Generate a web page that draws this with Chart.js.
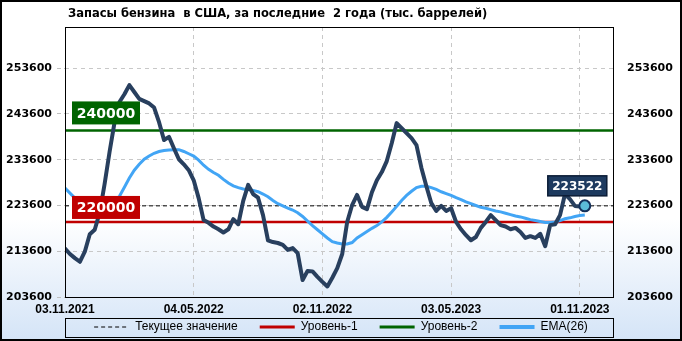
<!DOCTYPE html>
<html>
<head>
<meta charset="utf-8">
<script src="https://cdn.jsdelivr.net/npm/chart.js@4.4.0/dist/chart.umd.min.js"></script>
<style>
  html, body { margin: 0; padding: 0; background: #fff; }
  #wrap { width: 682px; height: 341px; }
</style>
</head>
<body>
<div id="wrap"><canvas id="chart" width="682" height="341"></canvas></div>
<script>
// Запасы бензина в США, недельные значения (тыс. баррелей)
const stocks = [
  214200, 213000, 212100, 211300, 213500, 217300, 218300, 222000, 228300, 235300,
  241700, 246200, 247900, 249900, 248400, 246900, 246400, 245900, 245000, 241800,
  237900, 238600, 236100, 233700, 232600, 231300, 229100, 225200, 220400, 219800,
  219000, 218400, 217700, 218400, 220600, 219500, 224600, 228100, 226100, 225300,
  221500, 216000, 215600, 215400, 215000, 213900, 214300, 213200, 207300, 209300,
  209200, 208000, 206900, 205900, 207800, 209900, 213000, 220000, 223700, 225900,
  223300, 222800, 226500, 229100, 230900, 233300, 237200, 241600, 240500, 239400,
  238300, 236800, 231800, 227800, 224100, 222400, 223500, 222400, 223000, 220000,
  218400, 217100, 216000, 216700, 218700, 220000, 221500, 220400, 219300, 219000,
  218400, 218700, 217800, 216500, 216900, 216500, 217400, 214700, 219300, 219500,
  221500, 226100, 225000, 223500, 223400, 223522
];

// EMA(26)
const ema26 = [
  227400, 226300, 225200, 224300, 223700, 223200, 223000, 223200, 223600, 224000,
  224700, 225600, 227600, 229600, 231300, 232600, 233700, 234400, 235000, 235400,
  235600, 235700, 235800, 235800, 235400, 234900, 234400, 233500, 232400, 231500,
  230800, 230200, 229300, 228500, 227900, 227500, 227200, 227100, 226900, 226600,
  226100, 225500, 224700, 224000, 223500, 223000, 222600, 222000, 221200, 220200,
  219200, 218300, 217400, 216500, 215700, 215400, 215200, 215200, 215500, 216500,
  217200, 217900, 218600, 219200, 220000, 221000, 222200, 223400, 224700, 225800,
  226700, 227500, 227800, 227800, 227500, 227100, 226600, 226200, 225800, 225300,
  224900, 224400, 224000, 223600, 223200, 223000, 222700, 222400, 222200, 221900,
  221600, 221300, 221100, 220800, 220500, 220300, 220100, 219900, 219900, 220000,
  220300, 220700, 220900, 221200, 221400, 221500
];

const xTickPos = [0, 26, 52, 78, 104];
const xTickLabels = ['03.11.2021', '04.05.2022', '02.11.2022', '03.05.2023', '01.11.2023'];
const yTicks = [203600, 213600, 223600, 233600, 243600, 253600];

const level1 = 220000;
const level2 = 240000;
const currentValue = 223522;

const legendNames = ['Текущее значение', 'Уровень-1', 'Уровень-2', 'EMA(26)'];
const chartTitle = 'Запасы бензина  в США, за последние  2 года (тыс. баррелей)';

const xMax = 110.9;
const yMin = 203600;
const yMax = 262600;

const flat = v => [{ x: 0, y: v }, { x: xMax, y: v }];
const points = arr => arr.map((v, i) => ({ x: i, y: v }));
const lastIdx = stocks.length - 1;

function drawTag(ctx, text, x, y, w, h, fill, edge, font) {
  ctx.save();
  ctx.fillStyle = fill;
  ctx.fillRect(x, y, w, h);
  if (edge) {
    ctx.strokeStyle = edge;
    ctx.lineWidth = 1.5;
    ctx.strokeRect(x, y, w, h);
  }
  ctx.fillStyle = '#fff';
  ctx.font = font;
  ctx.textAlign = 'center';
  ctx.textBaseline = 'middle';
  ctx.fillText(text, x + w / 2, y + h / 2 + 1);
  ctx.restore();
}

const decor = {
  id: 'decor',
  afterLayout(chart) {
    // легенду чуть ниже
    chart.legend.top += 2;
    chart.legend.bottom += 2;
  },
  beforeDraw(chart) {
    const { ctx, width, height } = chart;
    const bg = ctx.createLinearGradient(0, 0, 0, height);
    bg.addColorStop(0, '#ffffff');
    bg.addColorStop(0.64, '#ffffff');
    bg.addColorStop(1, '#d4e4f7');
    ctx.save();
    ctx.fillStyle = bg;
    ctx.fillRect(0, 0, width, height);
    ctx.restore();
  },
  afterDatasetsDraw(chart) {
    const { ctx, chartArea, scales } = chart;
    const y = scales.y;
    const tagFont = 'bold 14px "DejaVu Sans"';
    drawTag(ctx, String(level2), chartArea.left + 7, y.getPixelForValue(level2) - 29, 68, 23, '#006400', null, tagFont);
    drawTag(ctx, String(level1), chartArea.left + 7, y.getPixelForValue(level1) - 26, 68, 23, '#c00000', null, tagFont);
    const px = scales.x.getPixelForValue(lastIdx);
    const py = y.getPixelForValue(currentValue);
    drawTag(ctx, String(currentValue), px - 37, py - 30, 59, 20, '#1d3a5f', '#0b1c36', 'bold 12px "DejaVu Sans"');
  },
  afterDraw(chart) {
    const { ctx, chartArea, width, height } = chart;
    const lg = chart.legend;
    const pad = lg.options.labels.padding;
    ctx.save();
    // рамка области графика
    ctx.strokeStyle = '#000';
    ctx.lineWidth = 1;
    ctx.strokeRect(chartArea.left + 0.5, chartArea.top + 0.5, chartArea.right - chartArea.left - 1, chartArea.bottom - chartArea.top);
    // рамка легенды
    const itemTop = lg.top + pad;
    ctx.strokeRect(chartArea.left + 0.5, Math.round(itemTop - 3) + 0.5, chartArea.right - chartArea.left - 1, 19);
    // заголовок
    ctx.fillStyle = '#000';
    ctx.font = 'bold 12.8px "DejaVu Sans Condensed", "DejaVu Sans"';
    ctx.textBaseline = 'middle';
    ctx.textAlign = 'left';
    ctx.fillText(chartTitle, 68, 14);
    // внешняя рамка
    ctx.lineWidth = 2;
    ctx.strokeRect(1, 1, width - 2, height - 2);
    ctx.restore();
  }
};

const gap = '\u2002\u2002\u2002';

new Chart(document.getElementById('chart'), {
  type: 'line',
  data: {
    datasets: [
      { label: legendNames[0], data: flat(currentValue), borderColor: '#000', borderWidth: 1, borderDash: [4, 3], pointRadius: 0, order: 3 },
      { label: legendNames[1], data: flat(level1), borderColor: '#c00000', borderWidth: 2.5, pointRadius: 0, order: 4 },
      { label: legendNames[2], data: flat(level2), borderColor: '#006400', borderWidth: 2.5, pointRadius: 0, order: 4 },
      { label: legendNames[3], data: points(ema26), borderColor: '#42a5f5', borderWidth: 3, pointRadius: 0, order: 2 },
      {
        label: 'Запасы',
        data: points(stocks),
        borderColor: '#283f5e',
        borderWidth: 4,
        borderJoinStyle: 'round',
        borderCapStyle: 'round',
        pointRadius: ctx => ctx.dataIndex === lastIdx ? 5.5 : 0,
        pointBackgroundColor: '#5bbcd8',
        pointBorderColor: '#14305a',
        pointBorderWidth: 2,
        order: 1
      }
    ]
  },
  options: {
    responsive: false,
    animation: false,
    devicePixelRatio: 1,
    events: [],
    layout: { padding: { top: 27, bottom: 0, left: 0, right: 0 } },
    plugins: {
      title: { display: false },
      tooltip: { enabled: false },
      legend: {
        position: 'bottom',
        labels: {
          usePointStyle: true,
          pointStyleWidth: 35,
          boxHeight: 12,
          padding: 4,
          color: '#000',
          font: { family: '"Liberation Sans", Arial, sans-serif', size: 12 },
          generateLabels: chart => legendNames.map((name, i) => {
            const ds = chart.data.datasets[i];
            return {
              text: i < legendNames.length - 1 ? name + gap : name,
              strokeStyle: ds.borderColor,
              fillStyle: ds.borderColor,
              lineWidth: [1, 3, 3, 4][i],
              lineDash: ds.borderDash || [],
              pointStyle: 'line',
              fontColor: '#000',
              hidden: false,
              datasetIndex: i
            };
          })
        }
      }
    },
    scales: {
      x: {
        type: 'linear',
        min: 0,
        max: xMax,
        afterBuildTicks: s => { s.ticks = xTickPos.map(v => ({ value: v })); },
        afterFit: s => {
          const lh = s.chart.legend ? s.chart.legend.height : 26;
          s.height = 341 - 27 - 270 - lh;
        },
        grid: { color: '#c8c8c8', drawTicks: false },
        border: { display: false, dash: [4, 4] },
        ticks: {
          autoSkip: false,
          maxRotation: 0,
          padding: 5,
          color: '#000',
          font: { family: '"Liberation Sans", Arial, sans-serif', size: 12, weight: 'bold' },
          callback: (v, i) => xTickLabels[i]
        }
      },
      y: {
        position: 'left',
        min: yMin,
        max: yMax,
        afterBuildTicks: s => { s.ticks = yTicks.map(v => ({ value: v })); },
        afterFit: s => { s.width = 65; },
        grid: { color: '#c8c8c8', drawTicks: true, tickLength: 8, tickColor: '#c0c0c0', tickBorderDash: [4, 3] },
        border: { display: false, dash: [4, 4] },
        ticks: {
          padding: 5,
          color: '#000',
          font: { family: '"DejaVu Sans", sans-serif', size: 11, weight: 'bold' },
          callback: v => String(v)
        }
      },
      y2: {
        position: 'right',
        min: yMin,
        max: yMax,
        afterBuildTicks: s => { s.ticks = yTicks.map(v => ({ value: v })); },
        afterFit: s => { s.width = 68; },
        grid: { display: false, drawTicks: false },
        border: { display: false },
        ticks: {
          padding: 13,
          color: '#000',
          font: { family: '"DejaVu Sans", sans-serif', size: 11, weight: 'bold' },
          callback: v => String(v)
        }
      }
    }
  },
  plugins: [decor]
});
</script>
</body>
</html>
